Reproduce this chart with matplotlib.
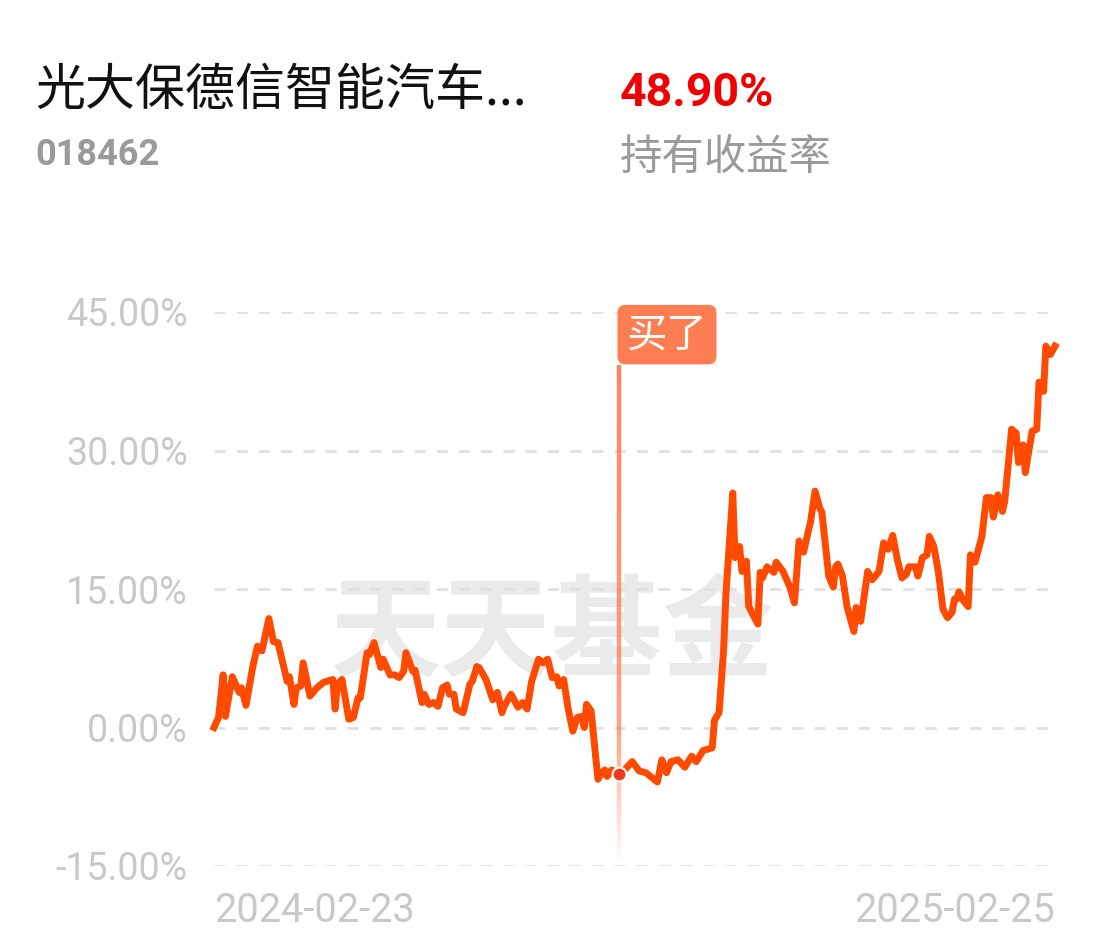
import matplotlib.pyplot as plt
import numpy as np
from matplotlib.collections import LineCollection

plt.rcParams['font.family'] = ['Roboto', 'Noto Sans CJK SC', 'DejaVu Sans']

# days after 2024-02-23, holding return in %
days = [0, 2, 4, 5, 8, 11, 12, 14, 17, 19, 21, 22, 24, 26, 28, 32, 33, 35, 36, 38,
        39, 42, 45, 48, 52, 53, 54, 56, 59, 61, 63, 64, 67, 68, 70, 73, 74, 77, 79, 81,
        83, 84, 87, 88, 91, 92, 94, 96, 98, 100, 102, 103, 105, 106, 109, 112, 113, 115, 116, 119,
        122, 124, 126, 127, 130, 133, 135, 137, 139, 142, 144, 146, 148, 150, 151, 153, 155, 157, 159, 161,
        162, 163, 165, 168, 170, 171, 172, 174, 177, 180, 183, 186, 189, 191, 194, 196, 198, 200, 203, 206,
        209, 211, 214, 218, 219, 221, 223, 224, 227, 228, 230, 231, 233, 234, 238, 239, 240, 242, 245, 246,
        249, 252, 254, 256, 258, 260, 261, 263, 265, 266, 269, 271, 272, 273, 275, 277, 280, 281, 283, 286,
        288, 291, 293, 295, 297, 299, 301, 303, 304, 307, 308, 310, 312, 313, 315, 317, 319, 321, 323, 324,
        325, 326, 328, 330, 331, 333, 336, 338, 340, 341, 343, 345, 346, 349, 351, 352, 354, 355, 358, 360,
        361, 363, 364, 366, 368]
values = [0.0, 1.1, 5.7, 1.2, 5.5, 3.8, 4.3, 2.4, 6.6, 8.8, 8.3, 9.5, 11.8, 9.3, 9.2, 5.0, 5.5, 2.5, 4.3, 4.5,
          7.0, 3.4, 4.3, 4.9, 5.2, 2.0, 4.7, 5.2, 0.9, 1.1, 3.2, 3.2, 8.1, 7.9, 9.2, 6.5, 7.4, 5.7, 5.7, 5.4,
          6.1, 8.1, 6.1, 6.2, 2.7, 3.6, 2.5, 2.7, 2.3, 4.3, 4.6, 3.6, 3.6, 2.0, 1.6, 4.7, 5.0, 6.6, 6.5, 5.2,
          3.0, 3.8, 1.6, 2.3, 3.6, 2.2, 2.7, 2.0, 5.0, 7.4, 7.0, 7.4, 5.4, 5.5, 4.5, 5.2, 2.0, -0.4, 1.1, 1.2,
          0.0, 2.5, 1.8, -5.6, -4.8, -4.6, -5.3, -4.6, -5.0, -4.5, -3.7, -4.7, -4.9, -5.3, -5.9, -3.5, -4.9, -3.7, -3.5, -4.3,
          -3.1, -3.7, -2.5, -2.2, 0.8, 1.6, 8.4, 14.4, 25.4, 18.4, 19.6, 16.9, 18.0, 13.1, 11.2, 16.8, 16.2, 17.4, 16.8, 17.9,
          16.9, 15.2, 13.5, 20.2, 19.0, 21.2, 22.2, 25.6, 23.8, 23.3, 16.4, 15.2, 17.4, 17.7, 16.4, 13.1, 10.4, 13.0, 11.5, 16.9,
          16.0, 16.9, 20.0, 19.3, 20.8, 18.2, 16.2, 16.6, 17.4, 17.4, 16.4, 18.4, 18.7, 20.7, 19.6, 16.8, 12.8, 11.9, 12.5, 13.9,
          13.9, 14.7, 13.7, 13.1, 18.7, 17.9, 20.7, 24.9, 24.9, 22.8, 25.2, 23.4, 24.5, 32.3, 31.9, 28.7, 30.6, 27.6, 32.1, 32.3,
          37.4, 36.4, 41.3, 40.4, 41.3]

yticks = [45, 30, 15, 0, -15]
ytick_labels = ['45.00%', '30.00%', '15.00%', '0.00%', '-15.00%']
date_labels = ['2024-02-23', '2025-02-25']
buy_day = 177
buy_value = -5.0

fig = plt.figure(figsize=(11.02, 9.51), dpi=100)
ax = fig.add_axes([214 / 1102, 85 / 951, 841 / 1102, 554 / 951])
ax.set_xlim(0, 368)
ax.set_ylim(-15, 45)
for s in ax.spines.values():
    s.set_visible(False)
ax.set_xticks([])
ax.set_yticks(yticks)
ax.set_yticklabels(ytick_labels, fontsize=27, color='#c8c8c8')
ax.tick_params(axis='y', length=0, pad=19)

for y in yticks:
    ax.axhline(y, color='#e0e0e0', lw=2, ls=(0, (4, 4)), zorder=1)

# watermark, behind grid and line
ax.text(0.501, 0.332, '天天基金', transform=fig.transFigure, fontsize=80, fontweight='bold',
        color='#eaeaea', ha='center', va='center', family=['Noto Sans CJK SC'], zorder=0.5)

# buy marker: fading vertical line
ys = np.linspace(39.3, -14.5, 120)
alphas = np.clip(np.interp(ys, [-14.5, 0, 39.3], [0.0, 0.7, 0.95]), 0, 1)
segs = [[(buy_day, ys[i]), (buy_day, ys[i + 1])] for i in range(len(ys) - 1)]
cols = [(1.0, 0.49, 0.33, a) for a in alphas[:-1]]
ax.add_collection(LineCollection(segs, colors=cols, linewidths=3.2, zorder=2, clip_on=False))

ax.annotate('买了', xy=(buy_day, 39.3), xytext=(48.5, 30), textcoords='offset pixels',
            ha='center', va='center', fontsize=29, color='white', family=['Noto Sans CJK SC'],
            bbox=dict(boxstyle='round,pad=0.23,rounding_size=0.2', fc='#ff7d52', ec='none'),
            annotation_clip=False, zorder=5)

ax.plot(days, values, color='#ff4a00', lw=5, solid_joinstyle='round', zorder=3, clip_on=False)
ax.plot([buy_day], [buy_value], 'o', ms=10, color='#f03a1e', mec='white', mew=1.5, zorder=4)

ax.text(0, -0.08, date_labels[0], transform=ax.transAxes, ha='left', va='center',
        fontsize=28.5, color='#c8c8c8')
ax.text(1, -0.08, date_labels[1], transform=ax.transAxes, ha='right', va='center',
        fontsize=28.5, color='#c8c8c8')

fig.text(35 / 1102, 0.904, '光大保德信智能汽车...', fontsize=36, color='#111111',
         ha='left', va='center', family=['Noto Sans CJK SC', 'DejaVu Sans'])
fig.text(35 / 1102, 0.837, '018462', fontsize=26, fontweight='bold', color='#9a9a9a',
         ha='left', va='center')
fig.text(620 / 1102, 0.902, '48.90%', fontsize=33.5, fontweight='bold', color='#f00000',
         ha='left', va='center')
fig.text(620 / 1102, 0.834, '持有收益率', fontsize=30.5, color='#9a9a9a',
         ha='left', va='center', family=['Noto Sans CJK SC'])

fig.savefig('out.png', dpi=100, facecolor='white')
